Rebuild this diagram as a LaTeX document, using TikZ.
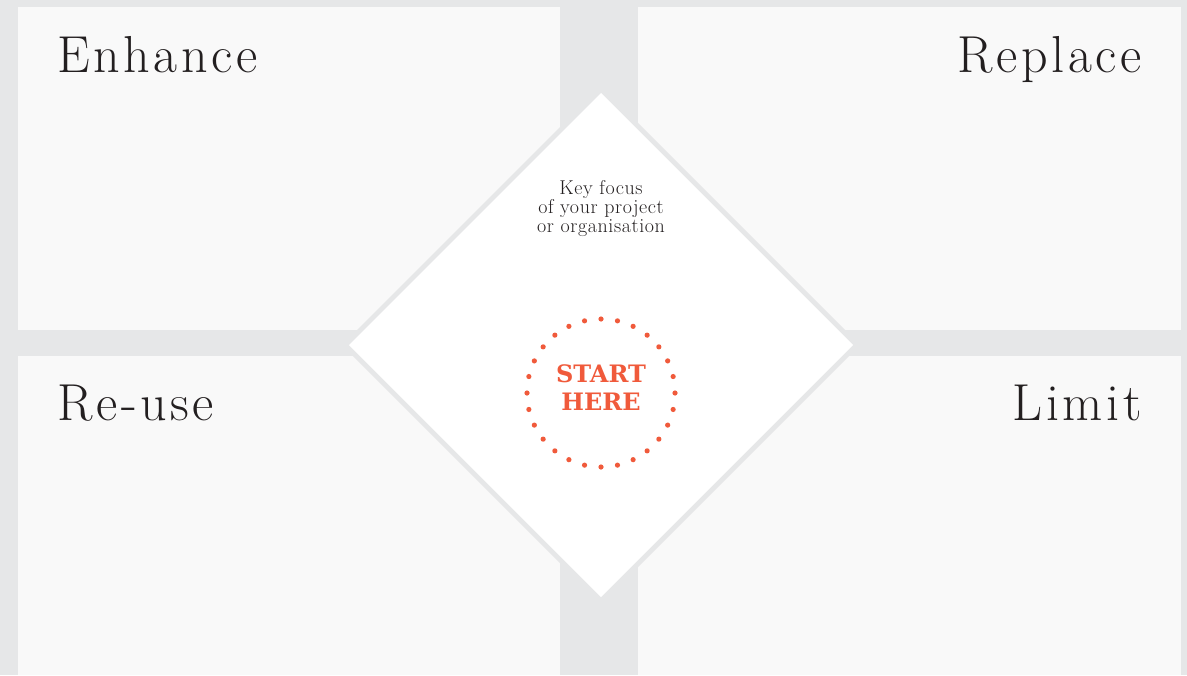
\documentclass[tikz,border=0pt]{standalone}
\usepackage{fontspec}
\usetikzlibrary{calc}
\newfontfamily\slabfont{DejaVu Serif}
\newfontfamily\titlefont[LetterSpace=7]{Latin Modern Roman}
\newfontfamily\notefont[LetterSpace=3]{Latin Modern Roman}
\definecolor{gutter}{HTML}{E6E7E8}
\definecolor{panel}{HTML}{F9F9F9}
\definecolor{ink}{HTML}{231F20}
\definecolor{coral}{HTML}{F05A3B}

\begin{document}
\begin{tikzpicture}[x=0.75pt, y=-0.75pt, every node/.style={text=ink, inner sep=0pt},
    title/.style={font=\titlefont\fontsize{39}{39}\selectfont}]
  \useasboundingbox (0,0) rectangle (1187,675);
  % Grey ground with four pale panels on it.
  \fill[gutter] (0,0) rectangle (1187,675);
  \fill[panel] (18,7) rectangle (560,330);
  \fill[panel] (638,7) rectangle (1181,330);
  \fill[panel] (18,356) rectangle (560,675);
  \fill[panel] (638,356) rectangle (1181,675);

  % Panel titles, set large and light.
  \node[title, anchor=base west] (enhance) at (57,72) {Enhance};
  \node[title, anchor=base east] (replace) at (1142,72) {Replace};
  \node[title, anchor=base west] (reuse) at (57,420) {Re-use};
  \node[title, anchor=base east] (limit) at (1142,420) {Limit};

  % The central diamond: a grey rim round a white face.
  \fill[gutter] (601,86) -- (860,345) -- (601,604) -- (342,345) -- cycle;
  \fill[white] (601,93) -- (853,345) -- (601,597) -- (349,345) -- cycle;

  \node[anchor=base, align=center, font=\notefont\fontsize{15}{14.25}\selectfont] (focus) at (601,232)
    {Key focus\\of your project\\or organisation};

  % Dotted ring and its label.
  \coordinate (ring) at (601,393);
  \foreach \k in {0,...,27}
    \fill[coral] ($(ring)+(90+\k*360/28:74)$) circle (2.6);
  \node[anchor=base, align=center, text=coral, font=\slabfont\bfseries\fontsize{18}{21}\selectfont] (start) at (601,410)
    {START\\HERE};
\end{tikzpicture}
\end{document}
